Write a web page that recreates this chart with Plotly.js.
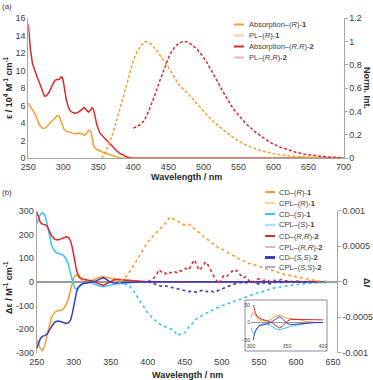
<!DOCTYPE html>
<html>
<head>
<meta charset="utf-8">
<script src="https://cdn.plot.ly/plotly-3.0.1.min.js"></script>
<style>
  html, body { margin: 0; padding: 0; background: #fff; }
  #chart { width: 373px; height: 380px; }
</style>
</head>
<body>
<div id="chart"></div>
<script>
// ---- panel (a): absorption (left axis) and PL (right axis) ----
const wlAbs = [250,253,256,260,263,266,270,273,276,280,284,288,291,294,297,299,301,304,307,310,314,318,322,326,330,333,336,339,341,343,345,348,352,356,360,365,370,375,380,385,390,395,400,450,500,550,600,650,700];
const absR1 = [6.3,5.9,5.5,5.0,4.4,3.8,3.45,3.4,3.6,3.9,4.3,4.6,4.85,4.8,4.2,3.6,3.3,3.1,3.0,2.9,2.85,2.8,2.9,2.8,2.65,2.8,3.2,3.1,2.5,1.5,1.2,1.0,0.8,0.7,0.6,0.45,0.3,0.12,0.05,0.01,0,0,0,0,0,0,0,0,0];
const absRR2 = [15.3,12.5,10.8,9.8,9.2,8.6,7.6,7.1,7.15,7.6,8.3,8.9,9.0,9.0,9.3,9.2,8.3,6.8,5.9,5.4,5.2,5.15,5.3,5.6,5.8,5.5,5.3,5.5,5.8,5.6,4.8,3.8,2.9,2.5,2.2,1.8,1.35,0.95,0.6,0.35,0.18,0.06,0,0,0,0,0,0,0];

const wlPL1 = [355,360,365,370,375,380,385,390,395,400,405,410,417,425,435,450,465,480,495,510,525,540,555,570,585,600,620,640,660,680,700];
const pl1 = [0,0.05,0.12,0.2,0.3,0.41,0.52,0.64,0.74,0.84,0.91,0.96,1.0,0.98,0.91,0.78,0.63,0.54,0.44,0.34,0.26,0.19,0.13,0.09,0.06,0.04,0.022,0.012,0.006,0.003,0];
const wlPL2 = [400,405,410,415,420,425,430,435,440,445,450,455,460,465,470,476,482,490,497,505,513,520,528,535,542,550,562,575,585,597,610,622,633,645,657,670,681,690,700];
const pl2 = [0.26,0.27,0.29,0.32,0.38,0.45,0.53,0.62,0.7,0.78,0.86,0.92,0.96,0.985,1.0,1.0,0.98,0.94,0.89,0.82,0.74,0.66,0.57,0.5,0.43,0.37,0.29,0.22,0.18,0.13,0.095,0.07,0.05,0.035,0.023,0.015,0.009,0.006,0.004];

// ---- panel (b): CD (left axis) and CPL (right axis) ----
const wlCD = [250,252,255,258,261,264,267,270,274,278,282,286,290,293,296,298,300,302,304,306,309,312,316,320,325,330,335,340,345,350,355,360,365,370,375,380,390,400,450,500,550,600,640];
const cdR1 = [-245,-262,-283,-290,-270,-225,-180,-150,-130,-123,-122,-115,-95,-70,-30,-5,15,27,28,22,12,8,5,4,6,12,19,21,17,12,11,11,9,6,4,2,0.5,0,0,0,0,0,0];
const cdS1 = [245,262,285,292,280,245,195,155,130,120,117,112,95,70,30,5,-15,-28,-31,-25,-15,-8,-4,-3,-6,-12,-19,-21,-17,-14,-11,-9,-7,-5,-4,-2,-0.5,0,0,0,0,0,0];
const cdRR2 = [296,275,250,243,242,235,212,195,180,176,180,185,190,187,170,145,110,75,45,28,16,12,8,6,3,-2,-10,-16,-8,3,9,8,7,6,5,3,1,0,0,0,0,0,0];
const cdSS2 = [-282,-265,-240,-230,-228,-222,-205,-190,-172,-166,-168,-172,-176,-173,-160,-135,-100,-68,-40,-25,-14,-9,-6,-5,-2,3,11,17,8,-3,-6,-5,-4,-3,-2,-1,0,0,0,0,0,0,0];

const wlCPL1 = [355,360,365,370,375,380,385,390,395,400,405,410,415,420,425,430,435,440,445,450,455,460,465,470,475,480,485,490,495,500,505,510,515,520,525,530,535,540,545,550,555,560,565,570,575,580,585,590,595,600,605,610,615,620,625,630,635,640,645,650];
const cplR1 = [0,0.1e-4,0.2e-4,0.6e-4,1.3e-4,2.1e-4,3.0e-4,3.9e-4,4.8e-4,5.6e-4,6.2e-4,6.8e-4,7.3e-4,7.8e-4,8.5e-4,9.1e-4,8.8e-4,8.6e-4,8.1e-4,8.0e-4,8.1e-4,7.8e-4,7.2e-4,6.9e-4,6.4e-4,6.0e-4,5.7e-4,5.3e-4,4.8e-4,4.6e-4,4.3e-4,4.0e-4,3.6e-4,3.4e-4,3.1e-4,2.9e-4,2.6e-4,2.5e-4,2.3e-4,2.2e-4,2.0e-4,1.8e-4,1.7e-4,1.5e-4,1.4e-4,1.2e-4,1.0e-4,0.9e-4,0.8e-4,0.7e-4,0.5e-4,0.4e-4,0.35e-4,0.25e-4,0.2e-4,0.1e-4,0.1e-4,0.05e-4,0,0];
const wlCPL2 = [360,365,370,375,380,385,390,395,400,405,410,415,420,425,430,435,440,445,450,455,460,465,470,475,480,485,490,495,500,505,510,515,520,525,530,535,540,545,550,555,560,565,570,575,580,585,590,595,600,610,620,630,640,650];
const cplS1 = [-0.1e-4,-0.2e-4,-0.3e-4,-0.5e-4,-1.2e-4,-2.0e-4,-2.9e-4,-3.7e-4,-4.4e-4,-5.0e-4,-5.5e-4,-5.9e-4,-6.2e-4,-6.4e-4,-6.6e-4,-6.8e-4,-7.6e-4,-7.3e-4,-7.2e-4,-6.4e-4,-5.9e-4,-5.3e-4,-5.0e-4,-4.6e-4,-4.4e-4,-4.1e-4,-3.9e-4,-3.6e-4,-3.4e-4,-3.2e-4,-3.0e-4,-2.8e-4,-2.6e-4,-2.4e-4,-2.2e-4,-2.0e-4,-1.8e-4,-1.7e-4,-1.5e-4,-1.4e-4,-1.2e-4,-1.1e-4,-0.9e-4,-0.8e-4,-0.7e-4,-0.6e-4,-0.5e-4,-0.45e-4,-0.4e-4,-0.3e-4,-0.2e-4,-0.15e-4,-0.1e-4,-0.05e-4];
const wlCPL3 = [400,404,408,412,415,418,421,424,427,430,433,436,439,442,445,448,451,454,457,460,463,466,469,472,475,478,481,484,487,490,493,496,499,502,505,508,511,514,517,520,523,526,529,532,535,538,541,544,547,550,555,560,565,570,575,580,585,590,595,600,610,620,630];
const cplRR2 = [0,0.2e-4,0.5e-4,1.0e-4,1.7e-4,1.4e-4,1.1e-4,1.2e-4,1.0e-4,1.3e-4,1.2e-4,1.4e-4,1.3e-4,1.6e-4,1.5e-4,1.7e-4,1.9e-4,1.6e-4,2.0e-4,2.6e-4,3.1e-4,2.4e-4,1.6e-4,1.9e-4,2.3e-4,2.8e-4,2.4e-4,1.9e-4,1.2e-4,0.6e-4,0.2e-4,-0.3e-4,0.3e-4,0.8e-4,0.6e-4,0.9e-4,1.2e-4,1.5e-4,1.3e-4,1.6e-4,1.2e-4,0.8e-4,0.5e-4,0.7e-4,0.3e-4,0.1e-4,0.2e-4,-0.1e-4,0.3e-4,0.4e-4,0.1e-4,0.3e-4,0,0.2e-4,0.1e-4,0.3e-4,0.1e-4,0.2e-4,0,0.1e-4,0,0.05e-4,0];
const wlCPL4 = [400,405,410,415,420,425,430,435,440,445,450,455,460,465,470,475,480,485,490,495,500,505,510,515,520,525,530,535,540,545,550,555,560,565,570,575,580,590,600,610,620];
const cplSS2 = [0,-0.2e-4,-0.4e-4,-0.5e-4,-0.7e-4,-0.6e-4,-0.8e-4,-0.9e-4,-1.0e-4,-1.1e-4,-1.2e-4,-1.4e-4,-1.3e-4,-1.5e-4,-1.3e-4,-1.2e-4,-1.4e-4,-1.3e-4,-1.5e-4,-1.2e-4,-1.0e-4,-0.8e-4,-0.6e-4,-0.3e-4,-0.2e-4,-0.1e-4,-0.2e-4,-0.1e-4,0,-0.2e-4,-0.3e-4,-0.2e-4,-0.1e-4,-0.3e-4,-0.2e-4,0,-0.1e-4,0,0,-0.05e-4,0];

const ticksA = [250,300,350,400,450,500,550,600,650,700];
const ticksB = [250,300,350,400,450,500,550,600,650];

const legendA = ['Absorption–(<i>R</i>)-<b>1</b>', 'PL–(<i>R</i>)-<b>1</b>', 'Absorption–(<i>R,R</i>)-<b>2</b>', 'PL–(<i>R,R</i>)-<b>2</b>'];
const legendB = ['CD–(<i>R</i>)-<b>1</b>', 'CPL–(<i>R</i>)-<b>1</b>', 'CD–(<i>S</i>)-<b>1</b>', 'CPL–(<i>S</i>)-<b>1</b>', 'CD–(<i>R,R</i>)-<b>2</b>', 'CPL–(<i>R,R</i>)-<b>2</b>', 'CD–(<i>S,S</i>)-<b>2</b>', 'CPL–(<i>S,S</i>)-<b>2</b>'];

// colours
const orange = '#F99B2F', orangeL = '#FDD09C';
const red = '#D92B30', redL = '#F5B0B0';
const cyan = '#3EC3EE', cyanL = '#A9E3F7';
const blue = '#3B3BC2', blueL = '#ABABE6';

const W = 373, H = 380;
const X = px => px / W;
const Y = py => 1 - py / H;

const font = 'Liberation Sans, Arial, sans-serif';
const tickFont = {family: font, size: 9, color: '#404040'};
const smallFont = {family: font, size: 5, color: '#404040'};

function line(x, y, xa, ya, color, dash, width) {
    return {x: x, y: y, xaxis: xa, yaxis: ya, mode: 'lines', showlegend: false,
            hoverinfo: 'skip', line: {color: color, width: width || 1.5, dash: dash || 'solid'}};
}

const data = [
    line(wlAbs, absR1, 'x', 'y', orange),
    line(wlAbs, absRR2, 'x', 'y', red),
    line(wlPL1, pl1, 'x', 'y2', orange, '3px,2px'),
    line(wlPL2, pl2, 'x', 'y2', red, '3px,2px'),

    line(wlCPL1, cplR1, 'x2', 'y4', orange, 'dot', 1.6),
    line(wlCPL2, cplS1, 'x2', 'y4', cyan, 'dot', 1.6),
    line(wlCPL3, cplRR2, 'x2', 'y4', red, 'dot', 1.6),
    line(wlCPL4, cplSS2, 'x2', 'y4', blue, 'dot', 1.6),
    line(wlCD, cdR1, 'x2', 'y3', orange),
    line(wlCD, cdS1, 'x2', 'y3', cyan),
    line(wlCD, cdRR2, 'x2', 'y3', red),
    line(wlCD, cdSS2, 'x2', 'y3', blue),

    // inset: zoom of the CD curves 300-400 nm
    line(wlCD, cdR1, 'x3', 'y5', orange, 'solid', 1),
    line(wlCD, cdS1, 'x3', 'y5', cyan, 'solid', 1),
    line(wlCD, cdRR2, 'x3', 'y5', red, 'solid', 1),
    line(wlCD, cdSS2, 'x3', 'y5', blue, 'solid', 1)
];

const axisBase = {automargin: false, showgrid: false, zeroline: false, tickfont: tickFont,
                  fixedrange: true, linecolor: '#A6A6A6', linewidth: 1};

const layout = {
    width: W, height: H,
    margin: {l: 0, r: 0, t: 0, b: 0},
    paper_bgcolor: '#fff', plot_bgcolor: 'rgba(0,0,0,0)',
    showlegend: false,
    font: {family: font, color: '#404040'},
    xaxis: Object.assign({}, axisBase, {domain: [X(28.3), X(343.5)], range: [250, 700], anchor: 'y',
        tickvals: ticksA, showline: true, ticks: ''}),
    yaxis: Object.assign({}, axisBase, {domain: [Y(158.3), Y(18.3)], range: [0, 16], anchor: 'x',
        tickvals: [0,2,4,6,8,10,12,14,16], showline: true, ticks: ''}),
    yaxis2: Object.assign({}, axisBase, {overlaying: 'y', side: 'right', anchor: 'x', range: [0, 1.2],
        tickvals: [0,0.2,0.4,0.6,0.8,1,1.2], ticktext: ['0','0.2','0.4','0.6','0.8','1','1.2'],
        showline: true, ticks: 'outside', ticklen: 3, tickcolor: '#A6A6A6'}),

    xaxis2: Object.assign({}, axisBase, {domain: [X(36.7), X(336.7)], range: [250, 655], anchor: 'y3',
        tickvals: ticksB, showline: false, ticks: '', ticklabelstandoff: 2}),
    yaxis3: Object.assign({}, axisBase, {domain: [Y(352.7), Y(210.7)], range: [-300, 300], anchor: 'x2',
        tickvals: [-300,-200,-100,0,100,200,300], ticktext: ['-300','-200','-100','0','100','200','300'],
        showline: true, ticks: '', zeroline: true, zerolinecolor: '#9A9A9A', zerolinewidth: 2}),
    yaxis4: Object.assign({}, axisBase, {overlaying: 'y3', side: 'right', anchor: 'x2', range: [-0.001, 0.001],
        tickvals: [-0.001,-0.0005,0,0.0005,0.001], ticktext: ['-0.001','-0.0005','0','0.0005','0.001'],
        showline: true, ticks: 'outside', ticklen: 3, tickcolor: '#A6A6A6'}),

    xaxis3: Object.assign({}, axisBase, {domain: [X(251), X(323)], range: [300, 400], anchor: 'y5',
        tickvals: [300,350,400], showline: false, ticks: '', ticklabelstandoff: 2, tickfont: smallFont}),
    yaxis5: Object.assign({}, axisBase, {domain: [Y(340), Y(305)], range: [-50, 50], anchor: 'x3',
        tickvals: [-50,0,50], showline: false, ticks: '', zeroline: true, zerolinecolor: '#9A9A9A', zerolinewidth: 1,
        tickfont: smallFont}),

    shapes: [
        {type: 'rect', xref: 'paper', yref: 'paper', x0: X(245), x1: X(327), y0: Y(351), y1: Y(300),
         fillcolor: '#fff', line: {color: '#8C8CA0', width: 1}, layer: 'below'}
    ],
    annotations: []
};

function ann(text, px, py, opts) {
    layout.annotations.push(Object.assign({text: text, xref: 'paper', yref: 'paper', x: X(px), y: Y(py),
        showarrow: false, xanchor: 'center', yanchor: 'middle',
        font: {family: font, size: 9, color: '#262626'}}, opts || {}));
}

// axis titles
ann('<b>Wavelength / nm</b>', 186, 177);
ann('<b>Wavelength / nm</b>', 187, 375);
ann('<b>ε / 10<sup>4</sup> M<sup>-1</sup> cm<sup>-1</sup></b>', 8, 88, {textangle: -90});
ann('<b>Δε / M<sup>-1</sup> cm<sup>-1</sup></b>', 8, 288, {textangle: -90});
ann('<b>Norm. Int.</b>', 367, 88, {textangle: 90});
ann('<b>Δ<i>I</i></b>', 367, 282, {textangle: 90});
ann('(a)', 7, 6, {font: {family: font, size: 8, color: '#404040'}});
ann('(b)', 7, 192, {font: {family: font, size: 8, color: '#404040'}});

// hand-drawn legends
const swA = [orange, orangeL, red, redL];
const yA = [24.5, 35.5, 46.5, 57.5];
legendA.forEach((t, i) => {
    layout.shapes.push({type: 'line', xref: 'paper', yref: 'paper', x0: X(234), x1: X(244), y0: Y(yA[i]), y1: Y(yA[i]),
        line: {color: swA[i], width: 2}});
    ann(t, 247, yA[i], {xanchor: 'left', font: {family: font, size: 7.5, color: '#404040'}});
});
const swB = [orange, orangeL, cyan, cyanL, red, redL, blue, blueL];
const yB = [192, 203, 214, 225, 236, 247, 257.5, 267];
legendB.forEach((t, i) => {
    layout.shapes.push({type: 'line', xref: 'paper', yref: 'paper', x0: X(265), x1: X(275), y0: Y(yB[i]), y1: Y(yB[i]),
        line: {color: swB[i], width: i === 6 ? 3 : 2}});
    ann(t, 277, yB[i], {xanchor: 'left', font: {family: font, size: 7.5, color: '#404040'}});
});

Plotly.newPlot('chart', data, layout, {staticPlot: true, displayModeBar: false});
</script>
</body>
</html>
